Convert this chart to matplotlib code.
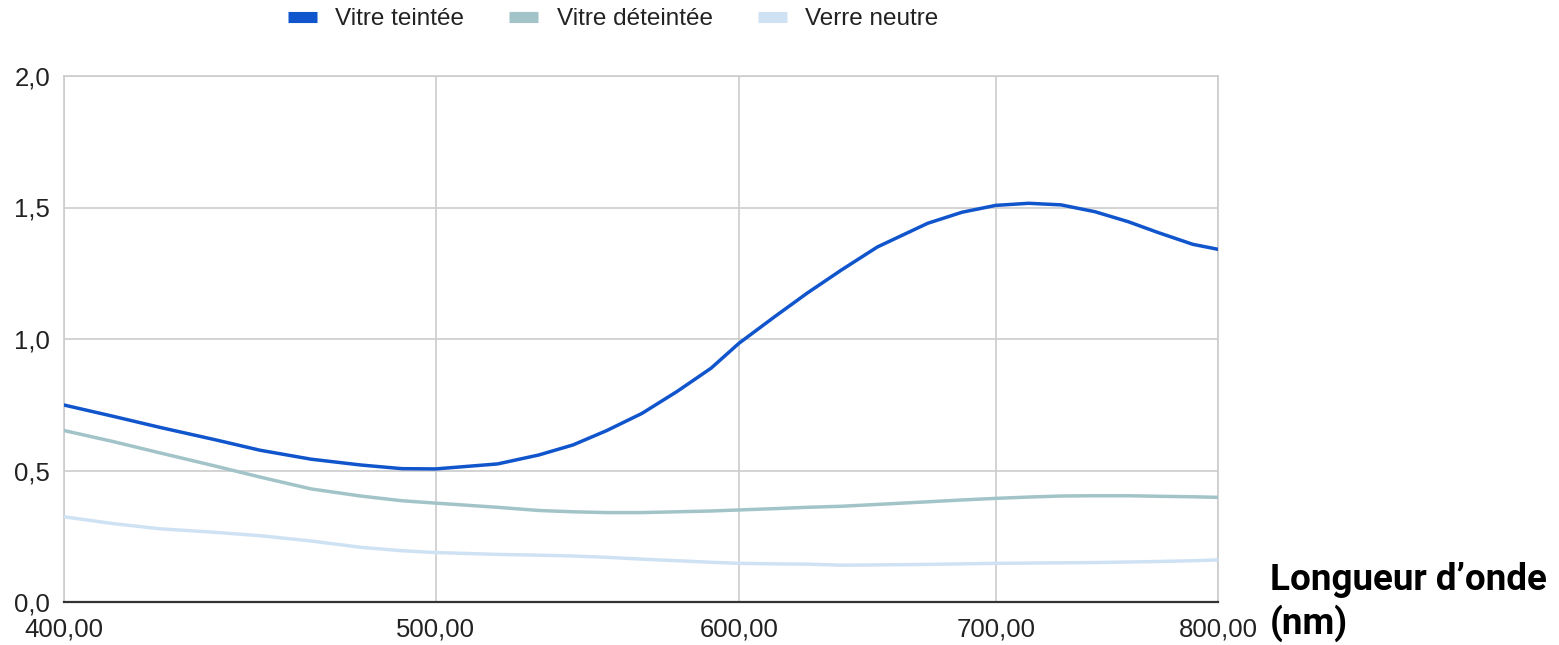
import matplotlib
matplotlib.use("Agg")
import matplotlib.pyplot as plt
from matplotlib.lines import Line2D
from matplotlib.ticker import FixedLocator, FixedFormatter, NullLocator

wavelength = [400, 412, 424, 438, 450, 464, 478, 490, 500, 519, 532, 543, 554, 566,
              578, 590, 600, 613, 625, 638, 652, 672, 686, 700, 714, 728, 743, 758,
              772, 788, 800]
vitre_teintee = [0.749, 0.706, 0.663, 0.617, 0.577, 0.543, 0.521, 0.507, 0.506, 0.525,
                 0.559, 0.597, 0.651, 0.717, 0.800, 0.889, 0.984, 1.085, 1.174, 1.262,
                 1.350, 1.440, 1.482, 1.508, 1.516, 1.510, 1.484, 1.446, 1.404, 1.360,
                 1.341]
vitre_deteintee = [0.652, 0.610, 0.566, 0.517, 0.475, 0.430, 0.403, 0.385, 0.376, 0.360,
                   0.348, 0.343, 0.340, 0.340, 0.343, 0.346, 0.350, 0.355, 0.360, 0.364,
                   0.371, 0.381, 0.388, 0.394, 0.399, 0.403, 0.404, 0.404, 0.402, 0.400,
                   0.398]
verre_neutre = [0.324, 0.298, 0.278, 0.265, 0.252, 0.232, 0.208, 0.195, 0.188, 0.181,
                0.178, 0.175, 0.170, 0.163, 0.157, 0.151, 0.147, 0.145, 0.144, 0.140,
                0.141, 0.143, 0.145, 0.147, 0.148, 0.149, 0.150, 0.152, 0.154, 0.157,
                0.160]

series_names = ["Vitre teintée", "Vitre déteintée", "Verre neutre"]
series_colors = ["#1155cc", "#a2c4c9", "#cfe2f3"]

x_ticks = [400, 500, 600, 700, 800]
x_ticklabels = ["400,00", "500,00", "600,00", "700,00", "800,00"]
y_ticks = [0.0, 0.5, 1.0, 1.5, 2.0]
y_ticklabels = ["0,0", "0,5", "1,0", "1,5", "2,0"]

plt.rcParams['font.family'] = ['Liberation Sans', 'DejaVu Sans']

W, H = 1559, 645
fig = plt.figure(figsize=(W / 100, H / 100), dpi=100)
ax = fig.add_axes([64 / W, 1 - 602 / H, (1218 - 64) / W, (602 - 76) / H])

ax.set_xscale('log')
for vals, name, col in zip([vitre_teintee, vitre_deteintee, verre_neutre], series_names, series_colors):
    ax.plot(wavelength, vals, color=col, lw=2.5, label=name, solid_capstyle='round',
            solid_joinstyle='round', zorder=3)

ax.set_xlim(400, 800)
ax.set_ylim(0, 2.0)
ax.xaxis.set_major_locator(FixedLocator(x_ticks))
ax.xaxis.set_major_formatter(FixedFormatter(x_ticklabels))
ax.xaxis.set_minor_locator(NullLocator())
ax.set_yticks(y_ticks)
ax.set_yticklabels(y_ticklabels)

ax.grid(True, color="#cccccc", lw=1.2, zorder=1)
for s in ['left', 'right', 'top']:
    ax.spines[s].set_color("#cccccc")
    ax.spines[s].set_linewidth(1.2)
ax.spines['bottom'].set_color("#333333")
ax.spines['bottom'].set_linewidth(1.6)
ax.spines['bottom'].set_zorder(4)
ax.tick_params(axis='both', length=0, labelsize=18.5, colors="#222222")
ax.tick_params(axis='y', pad=10)
ax.tick_params(axis='x', pad=11)

handles = [Line2D([0], [0], color=c, lw=8, solid_capstyle='butt') for c in series_colors]
fig.legend(handles, series_names, loc='center', bbox_to_anchor=(613 / W, 1 - 19 / H),
           ncol=3, frameon=False, fontsize=17.5, handlelength=1.2, handletextpad=0.75,
           columnspacing=1.85, labelcolor="#222222")

fig.text(1270 / W, 1 - 602 / H, "Longueur d’onde\n(nm)", ha='left', va='center',
         fontsize=26.5, fontweight='bold', family=['Roboto', 'DejaVu Sans'], linespacing=1.2,
         color="#000000")

fig.savefig("out.png", dpi=100, facecolor='white')
